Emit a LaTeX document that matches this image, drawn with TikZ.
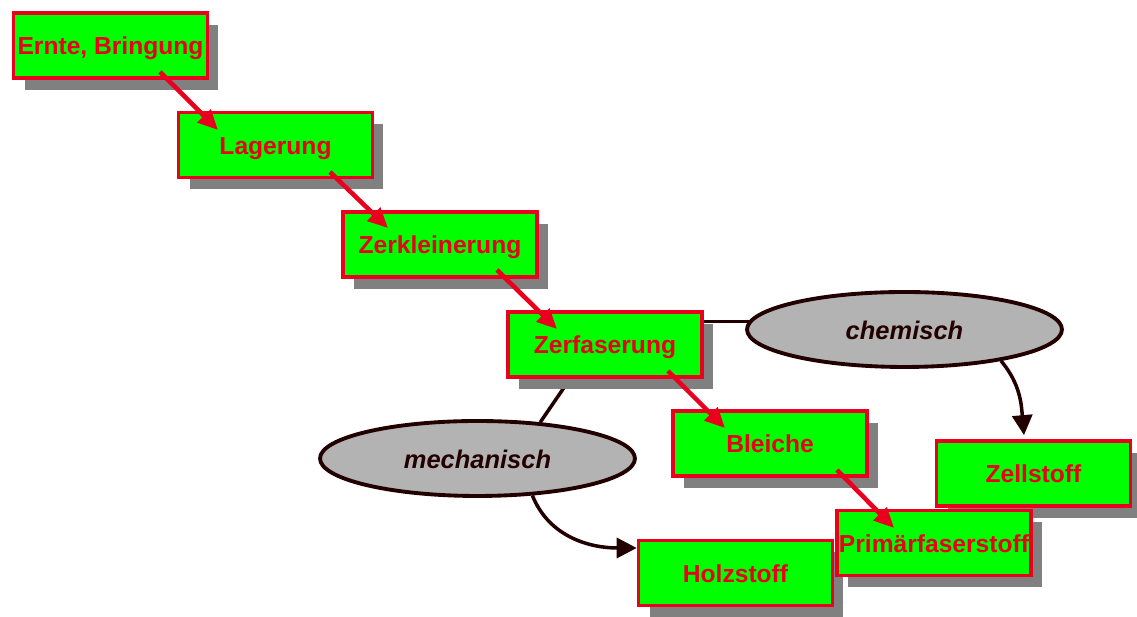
\documentclass[tikz,border=0pt]{standalone}
\usepackage{fontspec}
\setmainfont{Liberation Sans}
\usepackage{tikz}
\usetikzlibrary{arrows.meta, calc, shapes.geometric, shadows, backgrounds}
\definecolor{boxgreen}{RGB}{0, 255, 0}
\definecolor{stepred}{RGB}{232, 0, 28}
\definecolor{shadowgray}{RGB}{128, 128, 128}
\definecolor{ovalgray}{RGB}{179, 179, 179}
\definecolor{linebrown}{RGB}{34, 0, 0}

\begin{document}
\begin{tikzpicture}[x=0.02cm, y=0.02cm,
  stepbox/.style={draw=stepred, line width=2.1pt, fill=boxgreen,
    minimum width=3.88cm, minimum height=1.3cm, inner sep=1pt,
    text=stepred, font=\fontsize{14}{16}\selectfont\bfseries,
    text height=10.8pt, text depth=0pt,
    drop shadow={shadow xshift=0.22cm, shadow yshift=-0.24cm,
      fill=shadowgray, opacity=1}},
  routeoval/.style={ellipse, draw=linebrown, line width=2.2pt, fill=ovalgray,
    minimum width=6.3cm, minimum height=1.5cm, inner sep=0pt,
    text height=11.5pt, text depth=0pt,
    text=linebrown, font=\fontsize{14.5}{17}\selectfont\bfseries\itshape},
  redarrow/.style={draw=stepred, line width=2.6pt,
    -{Triangle[length=0.4cm, width=0.36cm]}},
  darkline/.style={draw=linebrown, line width=2pt},
  darkarrow/.style={darkline, -{Triangle[length=0.4cm, width=0.4cm]}}]

  \useasboundingbox (0,0) rectangle (1137,617);

  % ---------- Process steps ----------
  \node[stepbox] (harvest) at (110.5,571.5) {Ernte, Bringung};
  \node[stepbox] (storage) at (275.5,472)   {Lagerung};
  \node[stepbox] (chop)    at (440,372.5)   {Zerkleinerung};
  \node[stepbox] (fiber)   at (605,272.5)   {Zerfaserung};
  \node[stepbox] (bleach)  at (770,173.5)   {Bleiche};

  % products
  \node[stepbox] (holz) at (735.5,44)    {Holzstoff};
  \node[stepbox] (zell) at (1033.5,143.5) {Zellstoff};
  \node[stepbox] (prim) at (934,74)      {Primärfaserstoff};

  % ---------- Routes ----------
  \node[routeoval] (chem) at (904.5,287.5) {chemisch};
  \node[routeoval] (mech) at (477.5,158.5) {mechanisch};

  % connectors behind the boxes
  \begin{scope}[on background layer]
    \draw[darkline] (chem.177) -- (chem.177 -| fiber.east);
    \draw[darkline] (mech.30) -- ($(fiber.south)+(-35,0)$);
    \draw[darkarrow] (mech.-34) to[out=-68, in=180] ($(holz.west)+(0,25)$);
    \draw[darkarrow] (chem.-18) to[out=-50, in=95] ($(zell.north)+(-9.5,4)$);
  \end{scope}

  % ---------- Red step arrows ----------
  \draw[redarrow] ($(harvest)+(49.5,-26.5)$) -- ($(storage)+(-57.5,15)$);
  \draw[redarrow] ($(storage)+(54.5,-27)$)   -- ($(chop)+(-52,16.5)$);
  \draw[redarrow] ($(chop)+(57,-25.5)$)      -- ($(fiber)+(-48,15.5)$);
  \draw[redarrow] ($(fiber)+(63,-26.5)$)     -- ($(bleach)+(-45,15.5)$);
  \draw[redarrow] ($(bleach)+(67,-26.5)$)    -- ($(prim)+(-40,15)$);

\end{tikzpicture}
\end{document}
